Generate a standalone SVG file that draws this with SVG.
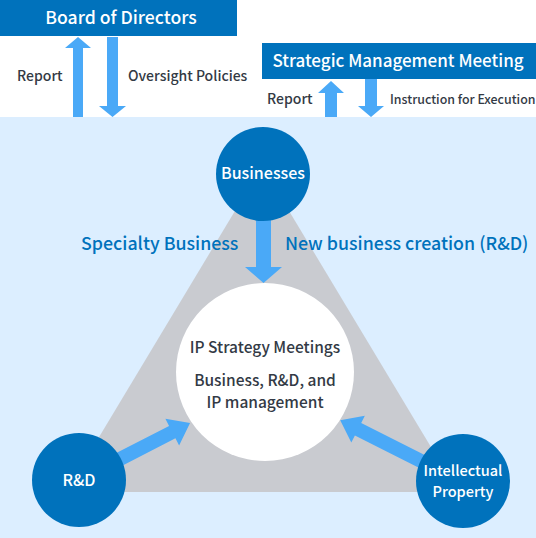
<svg xmlns="http://www.w3.org/2000/svg" width="536" height="538" viewBox="0 0 536 538">
<style>
.box{fill:#0072bc}
.node{fill:#0072bc}
.arr{fill:#4aa9f7}
.wt{fill:#ffffff;font-family:"Noto Sans CJK JP","Noto Sans",sans-serif;font-weight:500;text-anchor:middle}
.lbl{fill:#333a45;font-family:"Noto Sans CJK JP","Noto Sans",sans-serif;font-weight:500;font-size:14px}
.lbl2{fill:#333a45;font-family:"Noto Sans CJK JP","Noto Sans",sans-serif;font-weight:500;font-size:12.4px}
.blue{fill:#0072bc;font-family:"Noto Sans CJK JP","Noto Sans",sans-serif;font-weight:500;font-size:17.8px}
.ct{fill:#333a45;font-family:"Noto Sans CJK JP","Noto Sans",sans-serif;font-weight:500;font-size:15.5px;text-anchor:middle}
</style>
<rect x="0" y="117" width="536" height="421" fill="#dceeff"/>
<polygon points="262,166 66,492 458,492" fill="#c9cbd0"/>
<g id="board">
<rect class="box" x="0" y="0" width="237" height="36"/>
<text class="wt" x="121" y="24" font-size="17.6">Board of Directors</text>
</g>
<g id="smm">
<rect class="box" x="262" y="43" width="274" height="36"/>
<text class="wt" x="398" y="67" font-size="17">Strategic Management Meeting</text>
</g>
<g id="connectors">
<polygon class="arr" points="73,117 73,48 65,48 78,37 91,48 83,48 83,117"/>
<polygon class="arr" points="107,37 118,37 118,106 126,106 112.5,117 99,106 107,106"/>
<polygon class="arr" points="325,117 325,93 318,93 331,81 344,93 337,93 337,117"/>
<polygon class="arr" points="365,79 377,79 377,106 384,106 371,117 358,106 365,106"/>
<polygon class="arr" points="256,220 271,220 271,267 282,267 263.5,283 245,267 256,267"/>
<polygon class="arr" transform="translate(118,460) rotate(-27.2)" points="0,-7 61,-7 61,-15 81,0 61,15 61,7 0,7"/>
<polygon class="arr" transform="translate(425,463) rotate(-153.2)" points="0,-7 75,-7 75,-15 95,0 75,15 75,7 0,7"/>
</g>
<text class="lbl" x="17" y="81">Report</text>
<text class="lbl" x="128" y="81">Oversight Policies</text>
<text class="lbl" x="267" y="104">Report</text>
<text class="lbl2" x="390" y="104">Instruction for Execution</text>
<text class="blue" x="81" y="250">Specialty Business</text>
<text class="blue" x="285" y="250">New business creation (R&amp;D)</text>
<g id="center">
<circle cx="265" cy="372" r="89" fill="#ffffff"/>
<text class="ct" x="265" y="353">IP Strategy Meetings</text>
<text class="ct" x="265" y="386">Business, R&amp;D, and</text>
<text class="ct" x="265" y="408">IP management</text>
</g>
<g id="businesses">
<circle class="node" cx="263" cy="174" r="47"/>
<text class="wt" x="263" y="179" font-size="16">Businesses</text>
</g>
<g id="rnd">
<circle class="node" cx="79" cy="480" r="47"/>
<text class="wt" x="79" y="486" font-size="16">R&amp;D</text>
</g>
<g id="ip">
<circle class="node" cx="463" cy="481" r="47"/>
<text class="wt" x="463" y="476" font-size="14.5">Intellectual</text>
<text class="wt" x="463" y="497" font-size="14.5">Property</text>
</g>
</svg>
